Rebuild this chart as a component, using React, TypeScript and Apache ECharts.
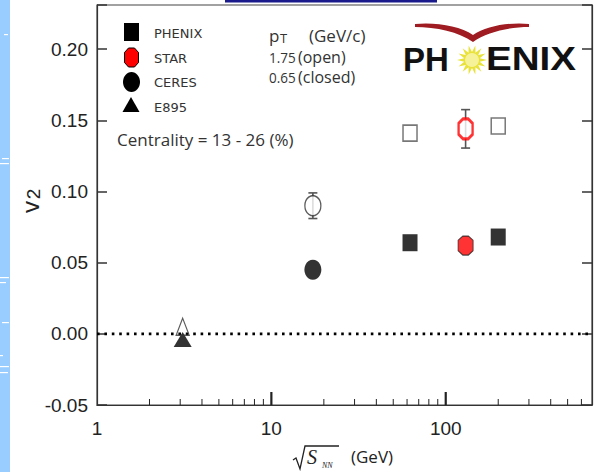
import React, { useEffect, useRef } from 'react';
import * as echarts from 'echarts';

// ---- data ----
const energyPHENIX = [62.4, 200];
const v2PHENIXClosed = [0.064, 0.068];
const v2PHENIXOpen = [0.141, 0.146];
const energySTAR = [130];
const v2STARClosed = [0.062];
const v2STAROpen = [0.144];
const errSTAROpen = [0.0135];
const energyCERES = [17.3];
const v2CERESClosed = [0.045];
const v2CERESOpen = [0.09];
const errCERESOpen = [0.009];
const energyE895 = [3.1];
const v2E895Closed = [-0.004];
const v2E895Open = [0.005];
const xMajorLabels = [1, 10, 100];
const xMajorTicks = [10, 100];
const xMinorTicks = [2, 3, 4, 5, 6, 7, 8, 9, 20, 30, 40, 50, 60, 70, 80, 90, 200, 300, 400, 500, 600];
const legendNames = ['PHENIX', 'STAR', 'CERES', 'E895'];
const X_MIN = 1;
const X_MAX = 690;
const Y_MIN = -0.05;
const Y_MAX = 0.231;
const Y_STEP = 0.05;

const HEX = 'path://M5,0 L11,0 L16,5 L16,17 L11,22 L5,22 L0,17 L0,5 Z';

const SANS = 'Open Sans';
const ARIAL = 'Liberation Sans';

function sunPoints(cx: number, cy: number, ro: number, ri: number, n: number) {
  const pts: number[][] = [];
  for (let i = 0; i < n * 2; i++) {
    const r = i % 2 === 0 ? ro : ri;
    const a = (Math.PI * i) / n;
    pts.push([cx + r * Math.cos(a), cy + r * Math.sin(a)]);
  }
  return pts;
}

let registered = false;
function registerShapes() {
  if (registered) return;
  registered = true;
  echarts.graphic.registerShape(
    'gullwing',
    echarts.graphic.extendPath(
      'M415,24 C436,22 460,26 473,35 C486,26 510,22 529,24 L529,27 C510,27 487,32 473,42 C459,32 436,27 415,27 Z',
      {}
    )
  );
}

export default function App() {
  const ref = useRef<HTMLDivElement>(null);
  useEffect(() => {
    document.body.style.margin = '0';
    registerShapes();
    const chart = echarts.init(ref.current!, undefined, { renderer: 'svg' });

    const pair = (xs: number[], ys: number[]) => xs.map((x, i) => [x, ys[i]]);
    const errData = [
      [energySTAR[0], v2STAROpen[0], errSTAROpen[0]],
      [energyCERES[0], v2CERESOpen[0], errCERESOpen[0]],
    ];
    const tickData = [
      ...xMinorTicks.map((v) => [v, Y_MIN, 6, 1]),
      ...xMajorTicks.map((v) => [v, Y_MIN, 13, 2.2]),
    ];

    const yLabelFmt = (v: number) =>
      Math.abs(v / Y_STEP - Math.round(v / Y_STEP)) < 1e-6 && v < 0.21 ? v.toFixed(2) : '';

    const txt = (x: number, y: number, text: string, size: number, extra: any = {}) => ({
      type: 'text',
      x,
      y,
      style: {
        text,
        fontSize: size,
        fontFamily: SANS,
        fill: '#333',
        textVerticalAlign: 'middle',
        ...(extra.style || {}),
      },
      ...(extra.el || {}),
    });

    const legendGraphics: any[] = [
      { type: 'rect', shape: { x: 124, y: 23, width: 15, height: 18 }, style: { fill: '#000' } },
      {
        type: 'polygon',
        shape: {
          points: [
            [128.5, 48], [134.5, 48], [138.5, 52.5], [138.5, 62.5],
            [134.5, 67], [128.5, 67], [124.5, 62.5], [124.5, 52.5],
          ],
        },
        style: { fill: '#ff0000', stroke: '#000', lineWidth: 1 },
      },
      { type: 'ellipse', shape: { cx: 131.5, cy: 82, rx: 8.5, ry: 10 }, style: { fill: '#000' } },
      { type: 'polygon', shape: { points: [[131, 97], [122.5, 112], [139.5, 112]] }, style: { fill: '#000' } },
      txt(154, 33, legendNames[0], 13, { style: { fontFamily: 'DejaVu Sans', fill: '#333' } }),
      txt(154, 58, legendNames[1], 13, { style: { fontFamily: 'DejaVu Sans', fill: '#333' } }),
      txt(154, 82, legendNames[2], 13, { style: { fontFamily: 'DejaVu Sans', fill: '#333' } }),
      txt(154, 107, legendNames[3], 13, { style: { fontFamily: 'DejaVu Sans', fill: '#333' } }),
    ];

    const infoGraphics: any[] = [
      txt(269, 35, 'p', 17),
      txt(280, 38, 'T', 13),
      txt(309, 35, '(GeV/c)', 17),
      txt(269, 57, '1.75', 15, { el: { scaleX: 0.9 } }),
      txt(298, 57, '(open)', 16),
      txt(269, 77, '0.65', 15, { el: { scaleX: 0.9 } }),
      txt(298, 77, '(closed)', 16),
      txt(117, 139, 'Centrality = 13 - 26 (%)', 17),
    ];

    const logoGraphics: any[] = [
      { type: 'gullwing', x: 0, y: 0, style: { fill: '#9e1c22' } },
      { type: 'polygon', shape: { points: sunPoints(472, 60, 15, 8, 14) }, style: { fill: '#e9e23a' } },
      { type: 'circle', shape: { cx: 472, cy: 60, r: 7 }, style: { fill: '#f6f29a' } },
      {
        type: 'text', x: 403, y: 59,
        style: { text: 'PH', fontSize: 33, fontWeight: 'bold', fontFamily: ARIAL, fill: '#111', textVerticalAlign: 'middle' },
      },
      {
        type: 'text', x: 486, y: 59, scaleX: 1.17,
        style: { text: 'ENIX', fontSize: 33, fontWeight: 'bold', fontFamily: ARIAL, fill: '#111', textVerticalAlign: 'middle' },
      },
    ];

    const decoGraphics: any[] = [
      { type: 'rect', shape: { x: 0, y: 0, width: 10, height: 472 }, style: { fill: '#99ccff' } },
      { type: 'rect', shape: { x: 4, y: 34, width: 4, height: 1.2 }, style: { fill: '#fff' } },
      { type: 'rect', shape: { x: 2, y: 158, width: 7, height: 1.2 }, style: { fill: '#fff' } },
      { type: 'rect', shape: { x: 0, y: 163, width: 9, height: 1.2 }, style: { fill: '#fff' } },
      { type: 'rect', shape: { x: 0, y: 277, width: 9, height: 1.2 }, style: { fill: '#fff' } },
      { type: 'rect', shape: { x: 0, y: 282, width: 6, height: 1.2 }, style: { fill: '#fff' } },
      { type: 'rect', shape: { x: 2, y: 322, width: 7, height: 1.2 }, style: { fill: '#fff' } },
      { type: 'rect', shape: { x: 0, y: 355, width: 3, height: 1.2 }, style: { fill: '#fff' } },
      { type: 'rect', shape: { x: 0, y: 366, width: 9, height: 1.2 }, style: { fill: '#fff' } },
      { type: 'rect', shape: { x: 0, y: 372, width: 8, height: 1.2 }, style: { fill: '#fff' } },
      { type: 'rect', shape: { x: 225, y: 0, width: 212, height: 2.5 }, style: { fill: '#1a1a8c' } },
      // y axis title v2
      {
        type: 'text', x: 30, y: 207, rotation: Math.PI / 2,
        style: { text: 'v', fontSize: 24, fontFamily: ARIAL, fill: '#222', textAlign: 'center', textVerticalAlign: 'middle' },
      },
      {
        type: 'text', x: 33, y: 194, rotation: Math.PI / 2,
        style: { text: '2', fontSize: 19, fontFamily: ARIAL, fill: '#222', textAlign: 'center', textVerticalAlign: 'middle' },
      },
      // x axis title sqrt(S_NN) (GeV)
      {
        type: 'polyline',
        shape: { points: [[293, 460], [296, 458], [300, 469], [305, 446], [339, 446]] },
        style: { stroke: '#222', lineWidth: 1.3, fill: 'none' },
      },
      {
        type: 'text', x: 307, y: 457,
        style: { text: 'S', fontSize: 20, fontStyle: 'italic', fontFamily: 'Liberation Serif', fill: '#222', textVerticalAlign: 'middle' },
      },
      {
        type: 'text', x: 322, y: 465,
        style: { text: 'NN', fontSize: 8, fontStyle: 'italic', fontFamily: 'Liberation Serif', fill: '#222', textVerticalAlign: 'middle' },
      },
      txt(351, 456, '(GeV)', 17, { style: { fill: '#222' } }),
    ];

    const option: any = {
      animation: false,
      backgroundColor: '#fff',
      grid: { left: 97, right: 6, top: 5, bottom: 67, show: true, borderColor: '#444', borderWidth: 1.2 },
      xAxis: {
        type: 'log',
        logBase: 10,
        min: X_MIN,
        max: X_MAX,
        axisLine: { show: true, onZero: false, lineStyle: { color: '#333', width: 1.2 } },
        axisTick: { show: false },
        axisLabel: {
          fontSize: 19,
          fontFamily: ARIAL,
          color: '#222',
          margin: 14,
          showMaxLabel: false,
          formatter: (v: number) => {
            const r = Math.round(v);
            return xMajorLabels.includes(r) && Math.abs(v - r) < 1e-6 ? String(r) : '';
          },
        },
        splitLine: { show: false },
      },
      yAxis: [
        {
          type: 'value',
          min: Y_MIN,
          max: Y_MAX,
          interval: Y_STEP,
          position: 'left',
          axisLine: { show: true, onZero: false, lineStyle: { color: '#333', width: 1.2 } },
          axisTick: { show: true, inside: true, length: 10, lineStyle: { color: '#333', width: 1.5 } },
          axisLabel: { fontSize: 19, fontFamily: ARIAL, color: '#222', margin: 9, formatter: yLabelFmt },
          splitLine: { show: false },
        },
        {
          type: 'value',
          min: Y_MIN,
          max: Y_MAX,
          interval: Y_STEP,
          position: 'right',
          axisLine: { show: true, onZero: false, lineStyle: { color: '#333', width: 1.2 } },
          axisTick: { show: true, inside: true, length: 10, lineStyle: { color: '#333', width: 1.5 } },
          axisLabel: { show: false },
          splitLine: { show: false },
        },
      ],
      series: [
        {
          name: 'zero',
          type: 'line',
          data: [[X_MIN, 0], [X_MAX, 0]],
          symbol: 'none',
          lineStyle: { color: '#000', width: 2.6, type: [2.6, 4.8] },
          z: 1,
          silent: true,
        },
        {
          name: 'x ticks',
          type: 'custom',
          data: tickData,
          clip: false,
          z: 3,
          silent: true,
          renderItem: (_p: any, api: any) => {
            const c = api.coord([api.value(0), api.value(1)]);
            return {
              type: 'line',
              shape: { x1: c[0], y1: c[1], x2: c[0], y2: c[1] - api.value(2) },
              style: { stroke: '#222', lineWidth: api.value(3) },
            };
          },
        },
        {
          name: 'errors',
          type: 'custom',
          data: errData,
          z: 2,
          renderItem: (_p: any, api: any) => {
            const x = api.value(0);
            const y = api.value(1);
            const e = api.value(2);
            const lo = api.coord([x, y - e]);
            const hi = api.coord([x, y + e]);
            const w = 4.5;
            const st = { stroke: '#555', lineWidth: 1.6 };
            return {
              type: 'group',
              children: [
                { type: 'line', shape: { x1: lo[0], y1: lo[1], x2: hi[0], y2: hi[1] }, style: st },
                { type: 'line', shape: { x1: lo[0] - w, y1: lo[1], x2: lo[0] + w, y2: lo[1] }, style: st },
                { type: 'line', shape: { x1: hi[0] - w, y1: hi[1], x2: hi[0] + w, y2: hi[1] }, style: st },
              ],
            };
          },
        },
        {
          name: 'PHENIX', type: 'scatter', data: pair(energyPHENIX, v2PHENIXClosed),
          symbol: 'rect', symbolSize: [15, 17], itemStyle: { color: '#000' }, z: 5,
        },
        {
          name: 'PHENIX open', type: 'scatter', data: pair(energyPHENIX, v2PHENIXOpen),
          symbol: 'rect', symbolSize: [14, 16], itemStyle: { color: '#fff', borderColor: '#555', borderWidth: 1.6 }, z: 5,
        },
        {
          name: 'STAR', type: 'scatter', data: pair(energySTAR, v2STARClosed),
          symbol: HEX, symbolKeepAspect: false, symbolSize: [15, 19],
          itemStyle: { color: '#ff0000', borderColor: '#222', borderWidth: 1 }, z: 5,
        },
        {
          name: 'STAR open', type: 'scatter', data: pair(energySTAR, v2STAROpen),
          symbol: HEX, symbolKeepAspect: false, symbolSize: [14, 20],
          itemStyle: { color: '#fff', borderColor: '#ff0000', borderWidth: 2.8 }, z: 5,
        },
        {
          name: 'CERES', type: 'scatter', data: pair(energyCERES, v2CERESClosed),
          symbol: 'circle', symbolKeepAspect: false, symbolSize: [17, 20], itemStyle: { color: '#000' }, z: 5,
        },
        {
          name: 'CERES open', type: 'scatter', data: pair(energyCERES, v2CERESOpen),
          symbol: 'circle', symbolKeepAspect: false, symbolSize: [16, 20],
          itemStyle: { color: '#fff', borderColor: '#333', borderWidth: 1.4 }, z: 5,
        },
        {
          name: 'E895', type: 'scatter', data: pair(energyE895, v2E895Closed),
          symbol: 'triangle', symbolKeepAspect: false, symbolSize: [18, 15], itemStyle: { color: '#000' }, z: 5,
        },
        {
          name: 'E895 open', type: 'scatter', data: pair(energyE895, v2E895Open),
          symbol: 'triangle', symbolKeepAspect: false, symbolSize: [13, 17],
          itemStyle: { color: 'rgba(255,255,255,0)', borderColor: '#333', borderWidth: 1.3 }, z: 5,
        },
      ],
      graphic: [...decoGraphics, ...legendGraphics, ...infoGraphics, ...logoGraphics],
    };
    chart.setOption(option);
    return () => chart.dispose();
  }, []);
  return <div ref={ref} style={{ width: 598, height: 472 }} />;
}
